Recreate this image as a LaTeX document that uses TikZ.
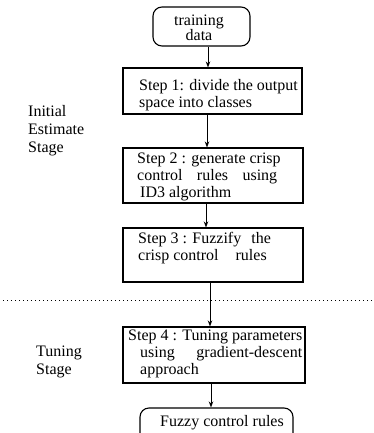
\documentclass[tikz,border=0pt]{standalone}
\usepackage{fontspec}
\setmainfont{Liberation Serif}
\usetikzlibrary{arrows.meta}
\begin{document}
\begin{tikzpicture}[x=1pt,y=-1pt,
  stepbox/.style={draw, line width=1.1pt, inner sep=0pt},
  termbox/.style={draw, line width=1.1pt, rounded corners=9pt, inner sep=0pt},
  txt/.style={align=left, inner sep=0pt, font=\fontsize{16}{17}\selectfont},
  flow/.style={line width=0.9pt, -{Stealth[length=6pt,width=4.5pt]}},
  sep/.style={line width=1pt, dash pattern=on 1.2pt off 2.8pt},
]
\useasboundingbox (0,0) rectangle (374,433);
\clip (0,0) rectangle (374,433);

% start terminal
\node[termbox, minimum width=97pt, minimum height=39pt] (train) at (201.5,26.5) {};
\node[txt, align=center, font=\fontsize{16}{14}\selectfont] (traint) at (199,28) {training\\data};

% processing steps
\node[stepbox, minimum width=179pt, minimum height=46pt] (s1) at (212.5,91) {};
\node[txt, anchor=west] (s1t) at (139,95) {Step 1: divide the output\\space into classes};

\node[stepbox, minimum width=180pt, minimum height=55pt] (s2) at (213,175.5) {};
\node[txt, anchor=west] (s2t) at (137,177) {Step 2 : generate crisp\\\makebox[140pt][s]{control rules using}\\\hspace*{3pt}ID3 algorithm};

\node[stepbox, minimum width=180pt, minimum height=54pt] (s3) at (213,255) {};
\node[txt, anchor=west] (s3t) at (138,248) {Step 3 : Fuzzify\hspace{6pt} the\\crisp control\hspace{13pt} rules};

\node[stepbox, minimum width=182pt, minimum height=56pt] (s4) at (214,355) {};
\node[txt, anchor=west] (s4t) at (128,354) {Step 4 : Tuning parameters\\\hspace*{12pt}\makebox[162pt][s]{using gradient-descent}\\\hspace*{12pt}approach};

% end terminal (runs off the lower edge)
\node[termbox, minimum width=153pt, minimum height=40pt] (fuzzy) at (216.5,428) {};
\node[txt] (fuzzyt) at (222,423) {Fuzzy control rules};

% stage labels
\node[txt, anchor=west, font=\fontsize{16}{18}\selectfont] (init) at (28,131) {Initial\\Estimate\\Stage};
\node[txt, anchor=west, font=\fontsize{16}{18}\selectfont] (tune) at (36,362) {Tuning\\Stage};

% stage separator
\coordinate (dl) at (3,300);
\coordinate (dr) at (374,300);
\draw[sep] (dl) -- (dr);

% connector columns
\coordinate (c1) at (208,0);
\coordinate (c2) at (207,0);
\coordinate (c3) at (206,0);
\coordinate (c4) at (210,0);
\coordinate (c5) at (211,0);

\draw[flow] (train.south -| c1) -- (s1.north -| c1);
\draw[flow] (s1.south -| c2) -- (s2.north -| c2);
\draw[flow] (s2.south -| c3) -- (s3.north -| c3);
\draw[flow] (s3.south -| c4) -- (s4.north -| c4);
\draw[flow] (s4.south -| c5) -- (fuzzy.north -| c5);
\end{tikzpicture}
\end{document}
